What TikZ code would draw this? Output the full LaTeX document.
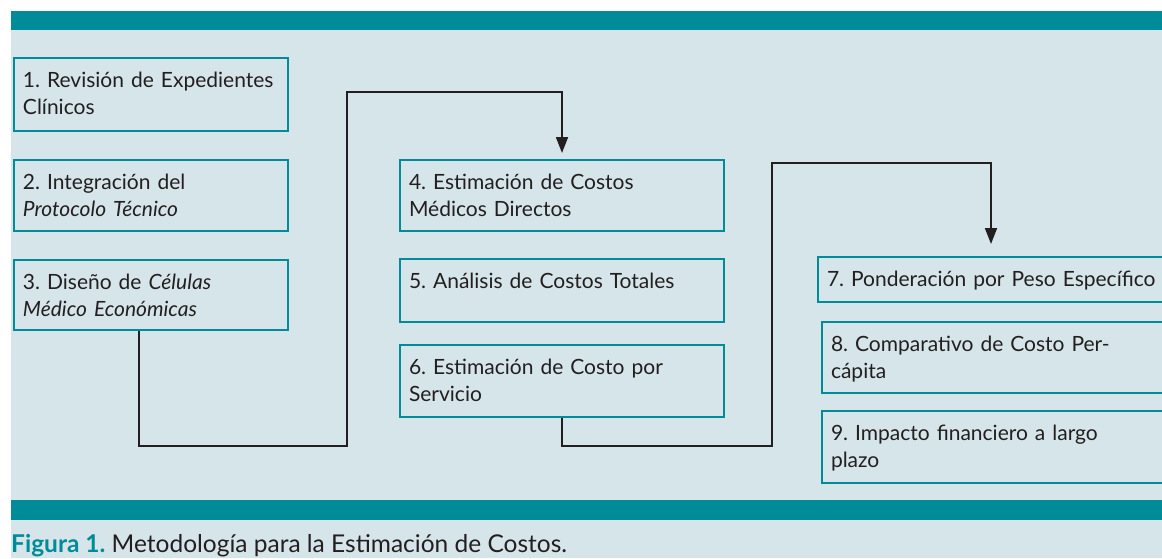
\documentclass[tikz,border=0pt]{standalone}
\usepackage{fontspec}
\setmainfont{Lato}
\usepackage{tikz}
\usetikzlibrary{arrows.meta}
\frenchspacing

\definecolor{teal bar}{RGB}{0,139,152}
\definecolor{panel}{RGB}{214,229,233}
\definecolor{ink}{RGB}{35,31,32}

\tikzset{
	step box/.style = {draw = teal bar, line width = 2pt, anchor = north west, align = left,
		inner xsep = 9pt, inner ysep = 0pt, text height = 29pt, text depth = #1,
		text = ink, font = \fontsize{21}{27}\selectfont},
	link/.style = {draw = ink, line width = 1.8pt, -{Triangle[length = 16pt, width = 12pt]}}
}

\begin{document}
\begin{tikzpicture}[x = 1pt, y = -1pt]
		\clip (0,0) rectangle (1162,558);
		
		\fill [panel] (11,11) rectangle (1162,558);
		\fill [teal bar] (11,11) rectangle (1162,30);
		\fill [teal bar] (11,500) rectangle (1162,520);
		
		\node [step box = 44pt, text width = 256pt] (box 1) at (13,57) {1. Revisión de Expedientes\\Clínicos};
		\node [step box = 42pt, text width = 256pt] (box 2) at (13,159) {2. Integración del\\\textit{Protocolo Técnico}};
		\node [step box = 41pt, text width = 256pt] (box 3) at (13,259) {3. Diseño de \textit{Células}\\\textit{Médico Económicas}};
		
		\node [step box = 42pt, text width = 306pt] (box 4) at (399,159) {4. Estimación de Costos\\Médicos Directos};
		\node [step box = 34pt, text width = 306pt] (box 5) at (399,258) {5. Análisis de Costos Totales};
		\node [step box = 43pt, text width = 306pt] (box 6) at (399,344) {6. Estimación de Costo por\\Servicio};
		
		\node [step box = 16pt, text width = 350pt] (box 7) at (817,256) {7. Ponderación por Peso Específico};
		\node [step box = 42pt, text width = 350pt] (box 8) at (821,321) {8. Comparativo de Costo Per-\\cápita};
		\node [step box = 43pt, text width = 350pt] (box 9) at (821,410) {9. Impacto financiero a largo\\plazo};
		
		\coordinate (low a) at (347,446);
		\coordinate (high a) at (347,92);
		\coordinate (low b) at (772,446);
		\coordinate (high b) at (772,163);
		
		\draw [link, shorten > = 6pt] ([xshift = -12pt]box 3.south) |- (low a) -- (high a) -| (box 4.north);
		\draw [link, shorten > = 12pt] (box 6.south) |- (low b) -- (high b) -| ([xshift = 174pt]box 7.north west);
		
		\node [anchor = base west, inner sep = 0pt, text = ink, font = \fontsize{24.5}{28}\selectfont] (caption) at (11,552)
			{\textcolor{teal bar}{\bfseries Figura 1.} Metodología para la Estimación de Costos.};
	\end{tikzpicture}
\end{document}
